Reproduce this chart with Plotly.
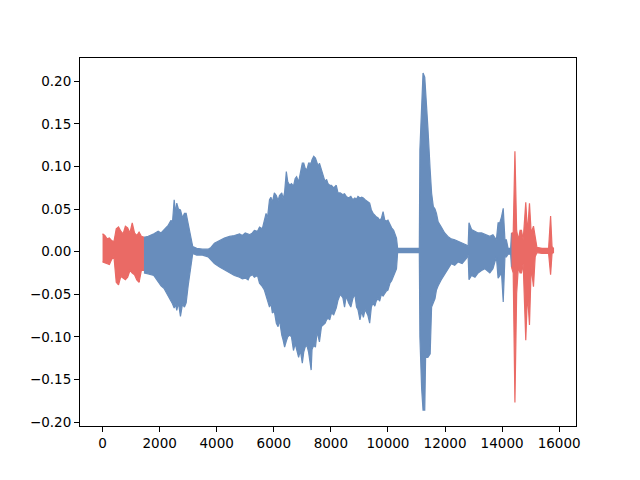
import plotly.graph_objects as go

BLUE = "rgb(104,141,188)"
RED = "rgb(234,106,101)"

# waveform envelope: sample index, upper and lower value
red_a_x = [0, 80, 160, 240, 320, 400, 480, 560, 640, 720, 800, 880, 960, 1040,
           1120, 1200, 1280, 1360, 1450]
red_a_hi = [0.021, 0.019, 0.015, 0.016, 0.013, 0.012, 0.027, 0.029, 0.024, 0.021,
            0.030, 0.028, 0.022, 0.034, 0.022, 0.019, 0.023, 0.018, 0.017]
red_a_lo = [-0.012, -0.013, -0.014, -0.015, -0.009, -0.006, -0.036, -0.039, -0.029,
            -0.031, -0.033, -0.030, -0.022, -0.025, -0.027, -0.033, -0.036, -0.022,
            -0.022]

blue_x = [1450, 1600, 1800, 1950, 2050, 2150, 2300, 2400, 2450, 2510,
          2560, 2600, 2660, 2730, 2800, 2870, 2930, 3000, 3100, 3160,
          3300, 3500, 3700, 3800, 3920, 4100, 4270, 4450, 4620, 4800,
          4900, 5000, 5100, 5150, 5250, 5320, 5430, 5500, 5600, 5670,
          5730, 5780, 5850, 5900, 5950, 6020, 6090, 6150, 6200, 6280,
          6330, 6380, 6440, 6490, 6560, 6620, 6690, 6750, 6800, 6870,
          6930, 7000, 7050, 7100, 7160, 7220, 7310, 7340, 7400, 7460,
          7520, 7560, 7600, 7670, 7740, 7800, 7850, 7900, 7960, 8020,
          8100, 8190, 8250, 8330, 8420, 8480, 8540, 8620, 8700, 8770,
          8840, 8900, 8950, 9020, 9080, 9140, 9200, 9240, 9300, 9360,
          9420, 9480, 9540, 9590, 9650, 9710, 9770, 9830, 9890, 9950,
          10000, 10070, 10130, 10200, 10250, 10300, 10340, 10500, 10800, 11100,
          11120, 11180, 11230, 11290, 11320, 11400, 11480, 11530, 11590, 11650,
          11700, 11760, 11870, 11990, 12100, 12220, 12340, 12460, 12600, 12750,
          12810, 12840, 12930, 13050, 13160, 13280, 13400, 13570, 13680, 13800,
          13860, 13920, 13980, 14040, 14100, 14150, 14210, 14300, 14330]
blue_hi = [0.017, 0.018, 0.021, 0.024, 0.022, 0.026, 0.031, 0.037, 0.034, 0.061,
           0.045, 0.057, 0.050, 0.049, 0.040, 0.045, 0.045, 0.033, 0.018, 0.006,
           0.004, 0.003, 0.003, 0.005, 0.010, 0.013, 0.016, 0.018, 0.019, 0.021,
           0.019, 0.022, 0.020, 0.020, 0.022, 0.025, 0.024, 0.029, 0.027, 0.037,
           0.045, 0.040, 0.061, 0.064, 0.058, 0.069, 0.066, 0.060, 0.066, 0.069,
           0.062, 0.070, 0.094, 0.082, 0.078, 0.080, 0.077, 0.086, 0.088, 0.082,
           0.094, 0.104, 0.104, 0.098, 0.096, 0.104, 0.104, 0.108, 0.112, 0.110,
           0.104, 0.100, 0.104, 0.096, 0.088, 0.082, 0.085, 0.080, 0.078, 0.078,
           0.075, 0.078, 0.069, 0.069, 0.067, 0.068, 0.065, 0.063, 0.065, 0.061,
           0.063, 0.062, 0.065, 0.063, 0.064, 0.063, 0.061, 0.060, 0.058, 0.057,
           0.049, 0.045, 0.043, 0.041, 0.040, 0.037, 0.039, 0.047, 0.037, 0.036,
           0.037, 0.031, 0.028, 0.025, 0.020, 0.016, 0.004, 0.004, 0.004, 0.004,
           0.120, 0.180, 0.210, 0.205, 0.190, 0.146, 0.096, 0.069, 0.053, 0.050,
           0.045, 0.035, 0.029, 0.022, 0.018, 0.015, 0.014, 0.012, 0.010, 0.008,
           0.006, 0.034, 0.026, 0.024, 0.022, 0.022, 0.020, 0.018, 0.020, 0.014,
           0.034, 0.034, 0.041, 0.051, 0.014, 0.014, 0.004, 0.004, 0.022]
blue_lo = [-0.025, -0.026, -0.028, -0.035, -0.040, -0.043, -0.051, -0.058, -0.061, -0.066,
           -0.062, -0.069, -0.060, -0.076, -0.062, -0.065, -0.060, -0.040, -0.015, -0.002,
           -0.004, -0.004, -0.006, -0.010, -0.014, -0.018, -0.022, -0.025, -0.028, -0.030,
           -0.032, -0.031, -0.033, -0.029, -0.027, -0.030, -0.028, -0.037, -0.041, -0.045,
           -0.050, -0.057, -0.065, -0.060, -0.072, -0.070, -0.084, -0.088, -0.080, -0.098,
           -0.104, -0.112, -0.105, -0.100, -0.098, -0.100, -0.116, -0.108, -0.112, -0.124,
           -0.116, -0.131, -0.118, -0.112, -0.110, -0.118, -0.139, -0.115, -0.110, -0.112,
           -0.094, -0.100, -0.106, -0.088, -0.086, -0.084, -0.080, -0.078, -0.080, -0.072,
           -0.074, -0.066, -0.057, -0.050, -0.054, -0.065, -0.052, -0.060, -0.065, -0.055,
           -0.050, -0.065, -0.068, -0.080, -0.070, -0.077, -0.068, -0.070, -0.075, -0.084,
           -0.065, -0.060, -0.064, -0.058, -0.055, -0.058, -0.050, -0.052, -0.049, -0.046,
           -0.045, -0.037, -0.034, -0.030, -0.024, -0.020, -0.001, -0.001, -0.001, -0.001,
           -0.100, -0.160, -0.186, -0.186, -0.124, -0.124, -0.120, -0.065, -0.060, -0.055,
           -0.045, -0.040, -0.033, -0.027, -0.020, -0.014, -0.016, -0.012, -0.014, -0.008,
           -0.004, -0.033, -0.028, -0.030, -0.025, -0.022, -0.020, -0.025, -0.020, -0.006,
           -0.031, -0.028, -0.025, -0.059, -0.006, -0.006, -0.003, -0.003, -0.018]

red_b_x = [14330, 14390, 14450, 14510, 14570, 14630, 14680, 14740, 14830, 14890,
           14960, 15020, 15100, 15160, 15220, 15400, 15630, 15700, 15750, 15800]
red_b_hi = [0.022, 0.022, 0.118, 0.025, 0.014, 0.025, 0.025, 0.014, 0.058, 0.022,
            0.057, 0.022, 0.030, 0.014, 0.005, 0.004, 0.004, 0.042, 0.006, 0.004]
red_b_lo = [-0.018, -0.025, -0.177, -0.049, -0.018, -0.025, -0.025, -0.014, -0.104,
            -0.049, -0.086, -0.018, -0.041, -0.006, -0.001, -0.002, -0.002, -0.027,
            -0.002, -0.001]

x_ticks = [0, 2000, 4000, 6000, 8000, 10000, 12000, 14000, 16000]
y_ticks = [-0.20, -0.15, -0.10, -0.05, 0.00, 0.05, 0.10, 0.15, 0.20]

assert len(blue_x) == len(blue_hi) == len(blue_lo)


def band(xs, hi, lo, color):
    return go.Scatter(x=xs + xs[::-1], y=hi + lo[::-1], mode="lines",
                      fill="toself", fillcolor=color,
                      line=dict(color=color, width=1.2),
                      showlegend=False, hoverinfo="skip")


fig = go.Figure()
fig.add_trace(band(red_a_x, red_a_hi, red_a_lo, RED))
fig.add_trace(band(blue_x, blue_hi, blue_lo, BLUE))
fig.add_trace(band(red_b_x, red_b_hi, red_b_lo, RED))

axis = dict(showgrid=False, zeroline=False, showline=True, linecolor="black",
            linewidth=1, mirror=True, ticks="outside", ticklen=5, tickwidth=1,
            tickcolor="black",
            tickfont=dict(family="DejaVu Sans", size=13.5, color="black"))

fig.update_xaxes(range=[-790, 16590], tickvals=x_ticks,
                 ticktext=[str(v) for v in x_ticks], **axis)
fig.update_yaxes(range=[-0.2047, 0.2275], tickvals=y_ticks,
                 ticktext=[f"{v:.2f}".replace("-", "\u2212") for v in y_ticks], **axis)

# page body has an 8px margin, so the figure is drawn 8px smaller
fig.update_layout(width=632, height=472, paper_bgcolor="white", plot_bgcolor="white",
                  margin=dict(l=72, r=64, t=50, b=54))

fig.write_html("out.html")
